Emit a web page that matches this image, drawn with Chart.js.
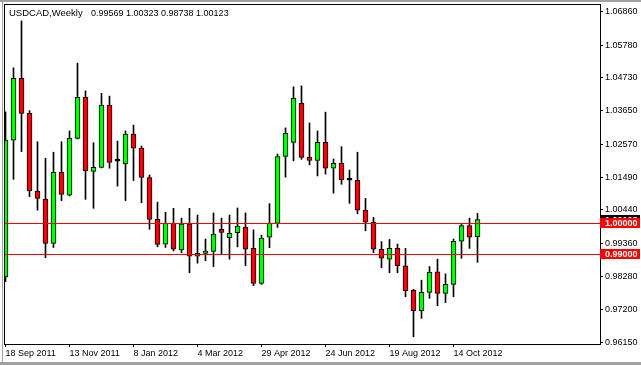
<!DOCTYPE html>
<html>
<head>
<meta charset="utf-8">
<script src="https://cdn.jsdelivr.net/npm/chart.js@4.4.1/dist/chart.umd.min.js"></script>
<style>
  html, body { margin: 0; padding: 0; background: #fff; }
</style>
</head>
<body>
<canvas id="chart" width="641" height="365"></canvas>
<script>
// USDCAD weekly candles, 18 Sep 2011 .. early Nov 2012
const title = "USDCAD,Weekly";
const open = [0.9826, 1.0270, 1.0471, 1.0357, 1.0105, 1.0079, 0.9935, 1.0166, 1.0092, 1.0276,
  1.0409, 1.0169, 1.0182, 1.0384, 1.0203, 1.0193, 1.0290, 1.0244, 1.0149, 1.0013,
  0.9933, 1.0000, 0.9914, 0.9998, 0.9894, 0.9903, 0.9909, 0.9981, 0.9954, 0.9970,
  0.9988, 0.9919, 0.9805, 0.9955, 1.0000, 1.0217, 1.0263, 1.0390, 1.0215, 1.0204,
  1.0263, 1.0179, 1.0195, 1.0141, 1.0140, 1.0043, 1.0004, 0.9916, 0.9884, 0.9919,
  0.9862, 0.9783, 0.9717, 0.9776, 0.9843, 0.9773, 0.9802, 0.9942, 0.9993, 0.99569];
const high = [1.0362, 1.0505, 1.0657, 1.0366, 1.0265, 1.0211, 1.0231, 1.0265, 1.0300, 1.0520,
  1.0430, 1.0262, 1.0422, 1.0413, 1.0267, 1.0300, 1.0319, 1.0251, 1.0157, 1.0069,
  1.0036, 1.0049, 1.0017, 1.0049, 1.0027, 0.9949, 1.0034, 1.0017, 1.0027, 1.0050,
  1.0034, 0.9979, 0.9962, 1.0064, 1.0225, 1.0310, 1.0443, 1.0446, 1.0326, 1.0300,
  1.0361, 1.0209, 1.0249, 1.0173, 1.0231, 1.0081, 1.0020, 0.9941, 0.9948, 0.9933,
  0.9919, 0.9786, 0.9816, 0.9860, 0.9884, 0.9836, 0.9949, 1.0000, 1.0017, 1.00323];
const low = [0.9811, 1.0143, 1.0233, 1.0087, 1.0043, 0.9889, 0.9922, 1.0074, 1.0089, 1.0274,
  1.0078, 1.0049, 1.0180, 1.0179, 1.0121, 1.0074, 1.0139, 1.0067, 0.9981, 0.9924,
  0.9922, 0.9911, 0.9905, 0.9840, 0.9871, 0.9879, 0.9860, 0.9902, 0.9884, 0.9924,
  0.9863, 0.9798, 0.9802, 0.9921, 0.9987, 1.0150, 1.0203, 1.0208, 1.0190, 1.0154,
  1.0160, 1.0098, 1.0127, 1.0065, 1.0031, 0.9976, 0.9905, 0.9856, 0.9840, 0.9840,
  0.9762, 0.9632, 0.9692, 0.9757, 0.9733, 0.9743, 0.9762, 0.9887, 0.9919, 0.98738];
const close = [1.0270, 1.0471, 1.0357, 1.0105, 1.0081, 0.9935, 1.0166, 1.0094, 1.0276, 1.0409,
  1.0170, 1.0182, 1.0384, 1.0198, 1.0202, 1.0290, 1.0244, 1.0149, 1.0013, 0.9932,
  1.0000, 0.9916, 0.9998, 0.9894, 0.9903, 0.9910, 0.9965, 0.9971, 0.9968, 0.9991,
  0.9916, 0.9805, 0.9952, 1.0000, 1.0217, 1.0292, 1.0406, 1.0214, 1.0204, 1.0263,
  1.0179, 1.0195, 1.0141, 1.0140, 1.0043, 1.0004, 0.9916, 0.9887, 0.9919, 0.9863,
  0.9782, 0.9717, 0.9776, 0.9841, 0.9773, 0.9802, 0.9942, 0.9993, 0.9955, 1.00123];

const dateLabels = ["18 Sep 2011", "13 Nov 2011", "8 Jan 2012", "4 Mar 2012",
  "29 Apr 2012", "24 Jun 2012", "19 Aug 2012", "14 Oct 2012"];
const weeksPerLabel = 8;
const priceTicks = [1.06860, 1.05780, 1.04730, 1.03650, 1.02570, 1.01490,
  1.00440, 0.99360, 0.98280, 0.97200, 0.96150];
const levels = [1.0000, 0.9900];

const FONT = "'Liberation Sans', Arial, sans-serif";
Chart.defaults.font.family = FONT;
Chart.defaults.font.size = 9;
Chart.defaults.color = "#000";

const last = close.length - 1;
const bodyColor = close.map((c, i) => {
  if (Math.abs(c - open[i]) < 0.00015) return "#000";
  return c > open[i] ? "#00ff00" : "#ff0000";
});

function tag(ctx, y, text, bg) {
  ctx.fillStyle = bg;
  ctx.fillRect(600, Math.round(y) - 5, 40, 10);
  ctx.fillStyle = "#fff";
  ctx.font = "bold 9px " + FONT;
  ctx.textAlign = "left";
  ctx.textBaseline = "middle";
  ctx.fillText(text, 605, Math.round(y) + 0.5);
}

const mt4 = {
  id: "mt4",
  beforeDraw(chart) {
    const ctx = chart.ctx;
    ctx.save();
    ctx.fillStyle = "#fff";
    ctx.fillRect(0, 0, chart.width, chart.height);
    ctx.fillStyle = "#a0a0a0";
    ctx.fillRect(0, 0, chart.width, 2);
    ctx.fillRect(2, 0, 1, chart.height);
    ctx.fillRect(0, chart.height - 3, chart.width, 3);
    ctx.restore();
  },
  afterDatasetsDraw(chart) {
    const { ctx, chartArea: a, scales } = chart;
    ctx.save();
    ctx.strokeStyle = "#ff0000";
    ctx.lineWidth = 1;
    levels.forEach((lv) => {
      const y = Math.round(scales.y.getPixelForValue(lv)) + 0.5;
      ctx.beginPath();
      ctx.moveTo(a.left, y);
      ctx.lineTo(a.right, y);
      ctx.stroke();
    });
    ctx.strokeStyle = "#000";
    ctx.strokeRect(a.left + 0.5, a.top + 0.5, a.right - a.left, a.bottom - a.top);
    ctx.restore();
  },
  afterDraw(chart) {
    const { ctx, scales } = chart;
    ctx.save();
    ctx.fillStyle = "#000";
    ctx.textBaseline = "alphabetic";
    ctx.textAlign = "left";
    ctx.font = "9.5px " + FONT;
    ctx.fillText(title, 9, 16);
    ctx.font = "9px " + FONT;
    const ohlc = [open[last], high[last], low[last], close[last]].map((v) => v.toFixed(5)).join(" ");
    ctx.fillText(ohlc, 91, 16);
    tag(ctx, scales.y.getPixelForValue(close[last]), close[last].toFixed(5), "#000");
    levels.forEach((lv) => tag(ctx, scales.y.getPixelForValue(lv), lv.toFixed(5), "#ff0000"));
    ctx.restore();
  },
};

const idx = close.map((_, i) => i);

new Chart(document.getElementById("chart"), {
  type: "bar",
  data: {
    datasets: [
      {
        label: "wick",
        data: idx.map((i) => ({ x: i, y: [low[i], high[i]] })),
        backgroundColor: "#000",
        barThickness: 1,
        grouped: false,
        order: 2,
      },
      {
        label: "body",
        data: idx.map((i) => ({ x: i, y: [open[i], close[i]] })),
        backgroundColor: bodyColor,
        borderColor: "#000",
        borderWidth: 1,
        borderSkipped: false,
        barThickness: 5,
        minBarLength: 2,
        grouped: false,
        order: 1,
      },
    ],
  },
  options: {
    responsive: false,
    animation: false,
    layout: { padding: { left: 4, top: 4, right: 0, bottom: 0 } },
    plugins: { legend: { display: false }, tooltip: { enabled: false } },
    scales: {
      x: {
        type: "linear",
        offset: false,
        min: -0.1875,
        max: 74.3125,
        afterBuildTicks: (s) => { s.ticks = dateLabels.map((_, k) => ({ value: k * weeksPerLabel })); },
        afterFit: (s) => { s.height = 21; s.paddingLeft = 0; s.paddingRight = 0; },
        grid: { offset: false, drawOnChartArea: false, drawTicks: true, tickLength: 3, color: "#000" },
        border: { display: true, color: "#000" },
        ticks: {
          align: "start",
          maxRotation: 0,
          autoSkip: false,
          padding: 1,
          callback: (v, i) => dateLabels[i],
        },
      },
      y: {
        position: "right",
        min: 0.96087,
        max: 1.07119,
        afterBuildTicks: (s) => { s.ticks = priceTicks.map((v) => ({ value: v })); },
        afterFit: (s) => { s.width = 41; s.paddingTop = 0; s.paddingBottom = 0; },
        grid: { drawOnChartArea: false, drawTicks: true, tickLength: 3, color: "#000" },
        border: { display: true, color: "#000" },
        ticks: { padding: 2, callback: (v) => v.toFixed(5) },
      },
    },
  },
  plugins: [mt4],
});
</script>
</body>
</html>
